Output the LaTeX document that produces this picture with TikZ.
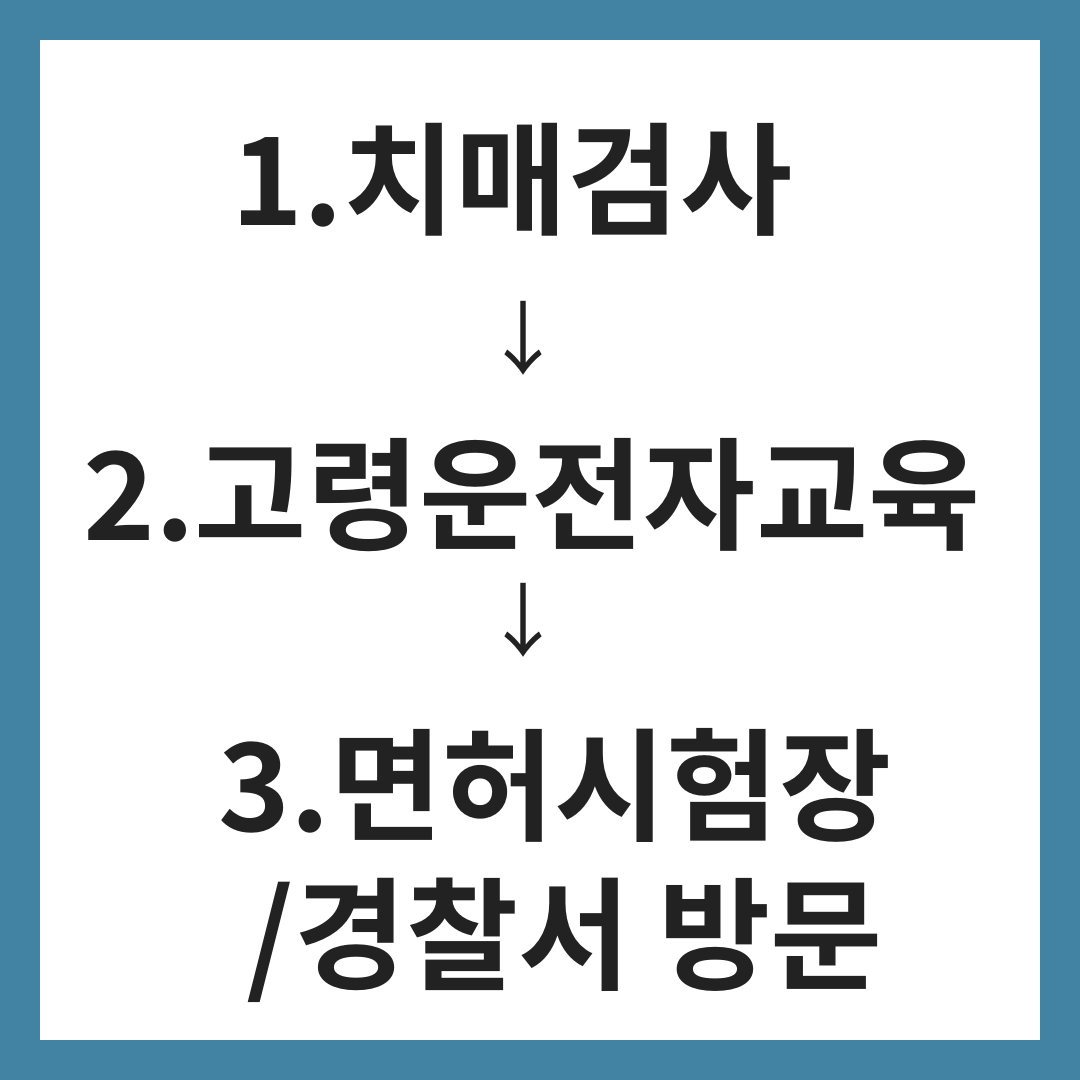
\documentclass[tikz,border=0pt]{standalone}
\usepackage{fontspec}
\setmainfont{Noto Sans CJK KR}[BoldFont={Noto Sans CJK KR Bold}]
\definecolor{frameblue}{RGB}{66,131,163}
\definecolor{inkgrey}{RGB}{34,34,34}
\tikzset{
  steptext/.style={font=\bfseries\fontsize{122}{130}\selectfont, text=inkgrey, inner sep=0pt, anchor=center},
  arrowtext/.style={font=\fontsize{80}{90}\selectfont, text=inkgrey, inner sep=0pt, anchor=center}
}
\begin{document}
\begin{tikzpicture}[x=1pt,y=-1pt]
\useasboundingbox (0,0) rectangle (1080,1080);
% frame
\fill [frameblue] (0,0) rectangle (1080,1080);
\fill [white] (40,40) rectangle (1040,1040);

% Text Node
\node [steptext] (first) at (512,180) {1.치매검사};
% Text Node
\node [arrowtext] (downa) at (523,338) {↓};
% Text Node
\node [steptext] (second) at (532,495) {2.고령운전자교육};
% Text Node
\node [arrowtext] (downb) at (523,620) {↓};
% Text Node
\node [steptext] (third) at (555,785) {3.면허시험장};
% Text Node
\node [steptext] (fourth) at (565,940) {/경찰서 방문};
\end{tikzpicture}
\end{document}
